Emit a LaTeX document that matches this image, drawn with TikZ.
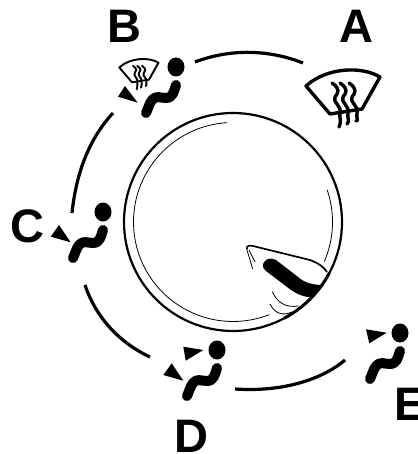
\documentclass[tikz,border=0pt]{standalone}
\usepackage{fontspec}
\setmainfont{Liberation Sans}
\usetikzlibrary{calc}
\tikzset{
  letter/.style={font=\fontsize{47}{47}\selectfont\bfseries, inner sep=0pt},
  dialarc/.style={line width=3.2pt},
  thinline/.style={line width=0.8pt},
  airtip/.style={fill=black, draw=none},
  seatbody/.style={line width=10pt, line cap=round, line join=round},
  screenline/.style={line join=round, line cap=round}
}
\begin{document}
\begin{tikzpicture}[x=1pt, y=-1pt]
  \useasboundingbox (0,0) rectangle (417,454);
  % letters
  \node[letter] (lA) at (356,26) {A};
  \node[letter] (lB) at (124,26) {B};
  \node[letter] (lC) at (27,226) {C};
  \node[letter] (lD) at (191,436) {D};
  \node[letter] (lE) at (410,404) {E};
  % dial
  \coordinate (knob) at (233,222);
  \draw[line width=2.2pt] (knob) circle (109);
  \draw[line width=3pt] ($(knob)+(28:109)$) arc (28:62:109);
  \draw[thinline] ($(knob)+(-93.4:99.5)$) arc (-93.4:-291.4:99.5);
  \draw[thinline] ($(knob)+(-18.9:99.5)$) arc (-18.9:23.4:99.5);
  % arcs between the positions
  \draw[dialarc] (195,62) .. controls (232,48) and (270,50) .. (303,63);
  \draw[dialarc] (113,113) .. controls (88,140) and (76,175) .. (72,213);
  \draw[dialarc] (85,285) .. controls (96,318) and (120,343) .. (150,357);
  \draw[dialarc] (235,389) .. controls (280,392) and (320,381) .. (345,360);
  % pointer
  \draw[line width=1.7pt, line join=round] (247,249) .. controls (246,245) and (250,245) .. (257,247) -- (310,260) .. controls (318,263) and (324,267) .. (327,272);
  \draw[thinline] (246.7,249) -- (252.7,269);
  \draw[thinline] (249,250) -- (255,262);
  \fill (265,261) .. controls (268,258) and (272,258) .. (276,260) -- (302,280) .. controls (308,284) and (316,285) .. (324,285) -- (310,297) .. controls (302,297) and (296,293) .. (291,290) -- (266,271) .. controls (262,268) and (262,264) .. (265,261) -- cycle;
  \draw[thinline] (272.3,291.7) .. controls (277,302) and (285,308) .. (298.3,306);
  \draw[thinline] (270,304) .. controls (275,314) and (283,316) .. (292,312);
  % seated figures
  \foreach \hx/\hy in {176/67,103/212,217/350,400/333}{
    \begin{scope}[shift={(\hx,\hy)}]
      \fill (0,0) ellipse (8.5 and 9.5);
      \draw[seatbody] (0,18) .. controls (-2,24) and (-3,31) .. (-10,31) .. controls (-16,31) and (-20,28) .. (-24,33) .. controls (-27,37) and (-28,42) .. (-30,46);
    \end{scope}
  }
  % air tips
  \foreach \a/\b/\c in {{125,86}/{137.7,102.7}/{118,96.7},{59,225}/{70.7,242.3}/{50.7,236.7},{183.3,346.7}/{203.3,350}/{185.7,360.7},{171.7,363.3}/{183.3,380.7}/{163.3,375},{366,329.3}/{386.7,332.7}/{369.3,343.3}}{
    \fill[airtip] (\a) -- (\b) -- (\c) -- cycle;
  }
  % wipers
  \foreach \sx/\sy/\sc/\lw in {347/70/1/3.4,141/59/0.53/1.9}{
    \begin{scope}[shift={(\sx,\sy)}, scale=\sc]
      \draw[screenline, line width=\lw pt] (-41,16) .. controls (-20,-3) and (15,-4) .. (33,7) -- (15,39) -- (-17,44) -- cycle;
      \foreach \d/\e in {-15/0,-7/-3,2/-6}{
        \draw[screenline, line width=\lw pt] (\d,13) .. controls (\d+9,19) and (\d+6,23) .. (\d+3,27) .. controls (\d,32) and (\d+10,36) .. (\d+8,43) .. controls (\d+7,48) and (\d+10,51) .. (\d+7,57+\e);
      }
    \end{scope}
  }
\end{tikzpicture}
\end{document}
